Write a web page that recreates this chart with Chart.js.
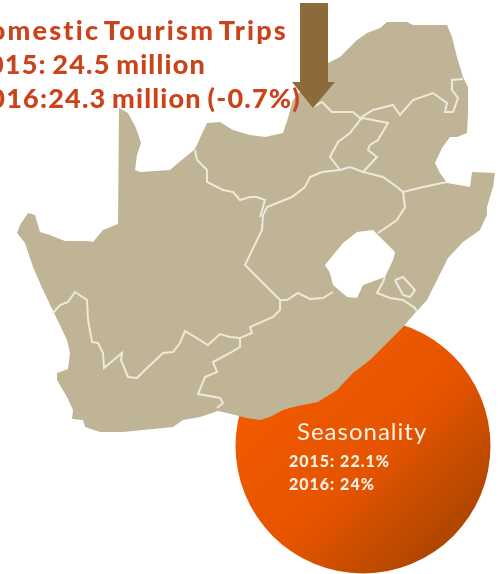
<!DOCTYPE html>
<html>
<head>
<meta charset="utf-8">
<title>Domestic Tourism Trips</title>
<script src="https://cdn.jsdelivr.net/npm/chart.js@4"></script>
<style>
    html, body { margin: 0; padding: 0; background: #fff; overflow: hidden; }
    canvas { display: block; }
</style>
</head>
<body>
<canvas id="map" width="501" height="574"></canvas>
<script>
var headline = ['Domestic Tourism Trips', '2015: 24.5 million', '2016:24.3 million (-0.7%)'];
var seasonTitle = 'Seasonality';
var seasonLines = ['2015: 22.1%', '2016: 24%'];

var outline = [[119,108],[128,113],[136,128],[141,143],[137,155],[135,170],[140,172],[155,171],[170,170],[178,163],
    [194,150],[197,145],[200,138],[207,123],[220,122],[233,130],[250,135],[265,137],[283,133],[288,118],[293,100],
    [310,80],[328,63],[340,57],[357,40],[367,33],[380,28],[387,22],[407,22],[413,25],[447,25],[452,37],[457,57],
    [463,77],[468,87],[468,113],[467,133],[457,137],[450,137],[442,148],[435,163],[440,173],[447,183],[470,187],
    [472,172],[495,173],[493,187],[487,207],[487,215],[480,230],[463,242],[448,258],[438,278],[427,300],[415,313],
    [403,327],[387,343],[370,360],[353,373],[337,390],[318,402],[293,407],[283,410],[270,417],[260,420],[247,418],
    [227,413],[218,411],[200,417],[183,420],[173,427],[143,430],[123,432],[100,432],[85,427],[83,420],[72,419],
    [73,410],[67,397],[57,380],[57,373],[68,369],[70,353],[67,340],[55,315],[43,290],[33,267],[25,243],[17,233],
    [20,225],[28,213],[35,215],[40,232],[50,235],[65,241],[88,241],[93,242],[103,230],[118,224]];
var lesotho = [[325,265],[343,243],[357,232],[373,230],[395,252],[393,260],[385,277],[363,285],[357,298],[347,297],
    [333,285],[330,273]];
var arrow = [[300,3],[328,3],[328,82],[335,82],[313,108],[292,82],[300,82]];

var borders = [
    [[53,313],[60,305],[68,302],[75,292],[87,300],[88,320],[92,342],[98,343],[103,353],[104,368],[122,353],[121,360],
     [128,377],[137,378],[145,370],[163,353],[173,352],[180,343],[185,331],[208,345],[220,334],[230,337],[240,338],
     [252,333],[250,327],[273,317],[280,310],[280,300]],
    [[240,338],[240,347],[230,353],[213,362],[217,372],[205,377],[198,394],[220,398],[223,403],[217,408]],
    [[333,292],[323,298],[310,299],[298,293],[287,300],[280,300],[260,280],[245,265],[262,230],[263,215],[267,207],
     [292,197],[305,187],[310,177],[322,172],[340,170],[330,157],[338,142],[350,133],[360,120],[363,118],[388,123],
     [378,140],[370,145],[368,150],[377,157],[363,172],[383,177],[397,187],[403,192],[405,207],[397,220],[378,233]],
    [[340,170],[350,167],[363,172]],
    [[403,192],[423,187],[447,182]],
    [[313,107],[322,102],[332,112],[353,112],[360,118],[373,110],[393,105],[400,115],[413,100],[433,93],[447,103],
     [445,112],[453,112],[458,98],[452,90],[452,80],[463,79]],
    [[195,150],[197,160],[207,170],[207,182],[223,190],[233,192],[240,200],[250,197],[257,197],[265,200],[263,207],
     [260,217]],
    [[385,277],[383,282],[377,293],[390,298],[403,300],[415,308],[417,312]],
    [[395,280],[403,277],[415,290],[410,297],[403,295],[395,280]]
];

var circleCentre = [[363,446]];

function toPoints(list) {
    return list.map(function (p) { return { x: p[0], y: p[1] }; });
}

var canvas = document.getElementById('map');
var ctx = canvas.getContext('2d');

var circleFill = ctx.createLinearGradient(250, 340, 470, 560);
circleFill.addColorStop(0, '#f45c00');
circleFill.addColorStop(0.55, '#e65400');
circleFill.addColorStop(1, '#a04200');

// chart.js can't fill a closed shape by itself, so trace the parsed elements
var polygonPlugin = {
    id: 'polygon',
    beforeDatasetDraw: function (chart, args) {
        var ds = chart.data.datasets[args.index];
        if (ds.label === 'arrow') drawHeadline(chart);
        if (!ds.polygon) return;
        var pts = chart.getDatasetMeta(args.index).data;
        var c = chart.ctx;
        c.save();
        c.beginPath();
        pts.forEach(function (p, i) {
            if (i === 0) c.moveTo(p.x, p.y); else c.lineTo(p.x, p.y);
        });
        c.closePath();
        c.fillStyle = ds.polygon;
        c.fill();
        c.restore();
    },
    afterDatasetsDraw: function (chart) {
        var c = chart.ctx, sx = chart.scales.x, sy = chart.scales.y;
        c.save();
        c.textAlign = 'left';
        c.fillStyle = '#fdf1e6';
        c.font = '24px Lato';
        c.letterSpacing = '1px';
        c.fillText(seasonTitle, sx.getPixelForValue(297), sy.getPixelForValue(440));
        c.font = '900 16px Lato';
        c.letterSpacing = '1px';
        c.fillText(seasonLines[0], sx.getPixelForValue(289), sy.getPixelForValue(467));
        c.fillText(seasonLines[1], sx.getPixelForValue(289), sy.getPixelForValue(490));
        c.restore();
    }
};

function drawHeadline(chart) {
    var c = chart.ctx, sx = chart.scales.x, sy = chart.scales.y;
    c.save();
    c.textAlign = 'right';
    c.fillStyle = '#c9441a';
    c.font = '900 27px Lato';
    c.letterSpacing = '2.2px';
    c.wordSpacing = '-5px';
    c.fillText(headline[0], sx.getPixelForValue(288), sy.getPixelForValue(40));
    c.letterSpacing = '1.2px';
    c.wordSpacing = '-2px';
    c.fillText(headline[1], sx.getPixelForValue(206), sy.getPixelForValue(74));
    c.fillText(headline[2], sx.getPixelForValue(301), sy.getPixelForValue(108));
    c.restore();
}

var datasets = [{
    label: 'arrow',
    data: toPoints(arrow),
    polygon: '#8c6a3a',
    showLine: false,
    pointRadius: 0
}, {
    label: 'Lesotho',
    data: toPoints(lesotho),
    polygon: '#ffffff',
    showLine: false,
    pointRadius: 0
}];

borders.forEach(function (line, i) {
    datasets.push({
        label: 'border ' + i,
        data: toPoints(line),
        showLine: true,
        borderColor: '#efe9da',
        borderWidth: 2,
        pointRadius: 0,
        tension: 0
    });
});

datasets.push({
    label: 'South Africa',
    data: toPoints(outline),
    polygon: '#c0b497',
    showLine: false,
    pointRadius: 0
});
datasets.push({
    label: 'Seasonality',
    data: toPoints(circleCentre),
    showLine: false,
    pointRadius: 127.5,
    pointBackgroundColor: circleFill,
    pointBorderWidth: 0
});

var mapChart = new Chart(ctx, {
    type: 'scatter',
    data: { datasets: datasets },
    options: {
        responsive: false,
        animation: false,
        clip: false,
        layout: { padding: 0, autoPadding: false },
        events: [],
        scales: {
            x: { type: 'linear', display: false, min: 0, max: 501 },
            y: { type: 'linear', display: false, min: 0, max: 574, reverse: true }
        },
        plugins: {
            legend: { display: false },
            tooltip: { enabled: false }
        }
    },
    plugins: [polygonPlugin]
});
</script>
</body>
</html>
